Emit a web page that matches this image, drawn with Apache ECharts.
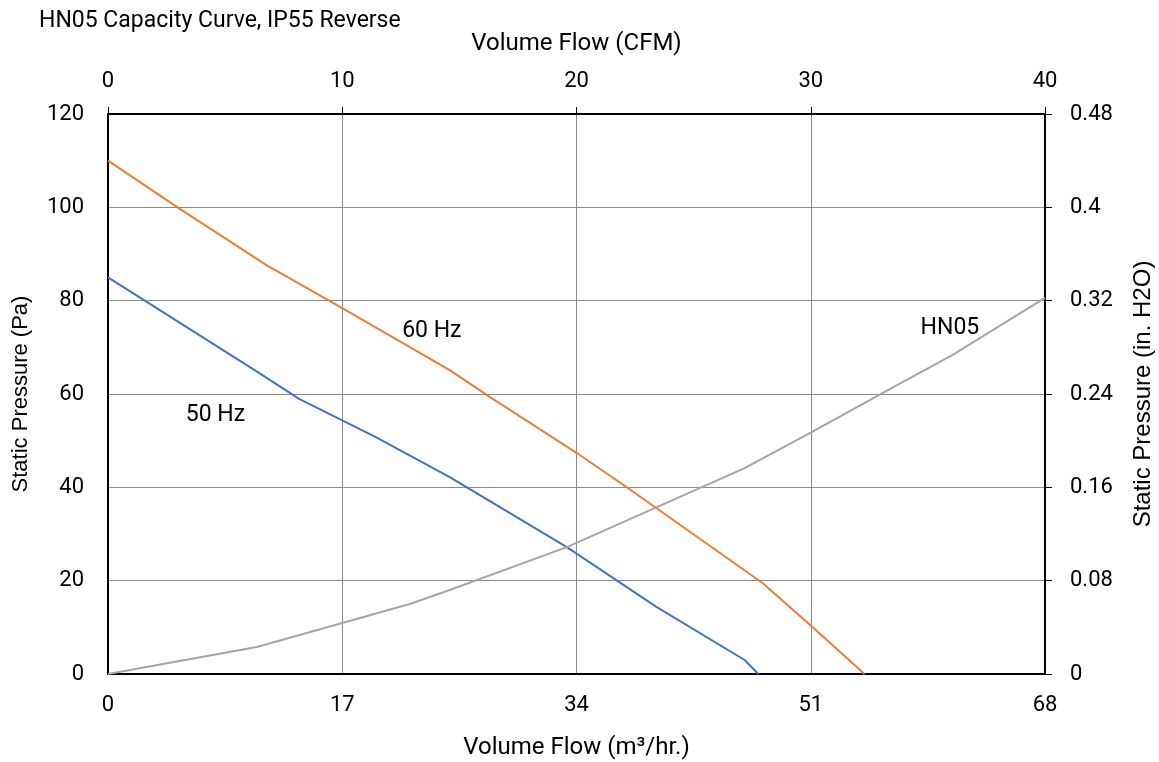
<!DOCTYPE html>
<html>
<head>
<meta charset="utf-8">
<script src="https://cdn.jsdelivr.net/npm/echarts@6/dist/echarts.min.js"></script>
<style>
html,body{margin:0;padding:0;background:#fff;}
#c{width:1159px;height:762px;}
</style>
</head>
<body>
<div id="c"></div>
<script>
const titleText = 'HN05 Capacity Curve, IP55 Reverse';
const hz60 = [[0,110],[5.1,99.9],[11.5,87.6],[17,78.4],[24.8,65.1],[27.7,59.4],[34,47.4],[37.7,39.9],[47.5,19.5],[51.1,10.1],[54.9,0]];
const hz50 = [[0,85],[10.7,65],[13.9,58.9],[19.4,50.8],[24.8,42.2],[33.3,27.2],[39.8,14.4],[46.2,3],[47.2,0]];
const hn05 = [[0,0],[10.8,5.8],[21.9,15],[24.8,18],[33.3,27.2],[46.2,44.1],[51.1,51.9],[56.2,60.2],[61.3,68.4],[68,80.6]];
const labels = [
  {name:'60 Hz', coord:[23.5,73.5]},
  {name:'50 Hz', coord:[7.8,55.5]},
  {name:'HN05', coord:[61.1,74.1]}
];
const font = 'Roboto, "Noto Sans", sans-serif';
const font2 = '"Liberation Sans", Arial, sans-serif';
const chart = echarts.init(document.getElementById('c'));
const gridLine = {show:true, lineStyle:{color:'#8c8c8c', width:1}};
function mk(name, data, color, lbl){
  return {
    name, type:'line', data, xAxisIndex:0, yAxisIndex:0, showSymbol:false, symbol:'none',
    lineStyle:{color, width:2}, itemStyle:{color}, silent:true, z:3,
    markPoint: lbl ? {symbol:'circle', symbolSize:0, silent:true,
      label:{show:true, formatter:lbl.name, color:'#000', fontSize:23, fontFamily:font},
      data:[{coord:lbl.coord, value:lbl.name}]} : undefined
  };
}
chart.setOption({
  animation:false,
  textStyle:{fontFamily:font},
  title:{text:titleText, left:34, top:5, textStyle:{fontSize:23, fontWeight:'normal', color:'#000', fontFamily:font}},
  grid:{left:108, right:114, top:114, bottom:88, containLabel:false, outerBoundsMode:'none'},
  xAxis:[
    {type:'value', position:'bottom', min:0, max:68, interval:17,
     name:'Volume Flow (m³/hr.)', nameLocation:'middle', nameGap:62, nameMoveOverlap:false,
     nameTextStyle:{fontSize:24, color:'#000', fontFamily:font},
     axisLine:{show:true, onZero:false, lineStyle:{color:'#000', width:2}},
     axisTick:{show:false},
     axisLabel:{fontSize:22, color:'#000', margin:20, fontFamily:font},
     splitLine:gridLine},
    {type:'value', position:'top', min:0, max:40, interval:10,
     name:'Volume Flow (CFM)', nameLocation:'middle', nameGap:58, nameMoveOverlap:false,
     nameTextStyle:{fontSize:24, color:'#000', fontFamily:font},
     axisLine:{show:true, onZero:false, lineStyle:{color:'#000', width:2}},
     axisTick:{show:true, length:7, lineStyle:{color:'#000'}},
     axisLabel:{fontSize:22, color:'#000', margin:22, fontFamily:font},
     splitLine:{show:false}}
  ],
  yAxis:[
    {type:'value', position:'left', min:0, max:120, interval:20,
     name:'Static Pressure (Pa)', nameLocation:'middle', nameGap:76, nameRotate:90, nameMoveOverlap:false,
     nameTextStyle:{fontSize:22, color:'#000', fontFamily:font2},
     axisLine:{show:true, onZero:false, lineStyle:{color:'#000', width:2}},
     axisTick:{show:false},
     axisLabel:{fontSize:22, color:'#000', margin:24, fontFamily:font},
     splitLine:gridLine},
    {type:'value', position:'right', min:0, max:0.48, interval:0.08,
     name:'Static Pressure (in. H2O)', nameLocation:'middle', nameGap:86, nameRotate:90, nameMoveOverlap:false,
     nameTextStyle:{fontSize:24, color:'#000', fontFamily:font2},
     axisLine:{show:true, onZero:false, lineStyle:{color:'#000', width:2}},
     axisTick:{show:true, length:7, lineStyle:{color:'#000'}},
     axisLabel:{fontSize:22, color:'#000', margin:25, fontFamily:font,
       formatter:v=>String(parseFloat(v.toFixed(2)))},
     splitLine:{show:false}}
  ],
  series:[
    mk('60 Hz', hz60, '#ED7D31', labels[0]),
    mk('50 Hz', hz50, '#4472C4', labels[1]),
    mk('HN05', hn05, '#A5A5A5', labels[2])
  ]
});
</script>
</body>
</html>
